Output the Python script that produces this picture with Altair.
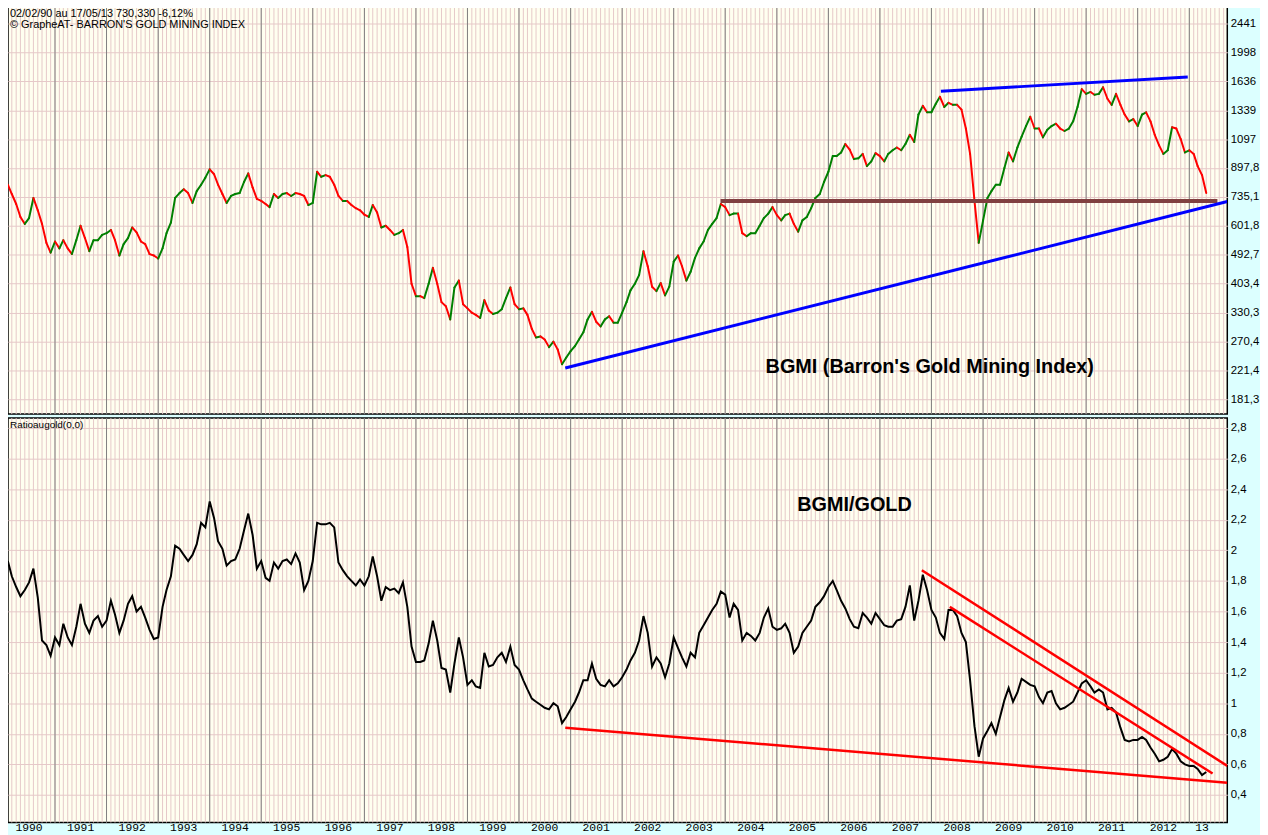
import altair as alt
import pandas as pd

# ---------------- data ----------------
months = pd.date_range("1990-02-01", periods=280, freq="MS").strftime("%Y-%m-%d").tolist()

bgmi = [
    800, 750, 700, 640, 610, 635, 730, 670, 610, 535, 500,
    540, 515, 545, 515, 495, 545, 602, 553, 505, 545, 545, 565,
    572, 585, 545, 490, 530, 553, 595, 575, 540, 530, 495, 490,
    480, 515, 572, 615, 730, 755, 775, 755, 705, 765, 800, 840,
    890, 860, 800, 750, 705, 740, 750, 755, 815, 865, 785, 725,
    715, 700, 685, 750, 730, 750, 755, 740, 755, 750, 740, 695,
    705, 875, 845, 855, 845, 800, 740, 715, 715, 695, 680, 670,
    650, 640, 695, 660, 595, 602, 585, 565, 572, 585, 520, 403,
    370, 370, 365, 403, 450, 403, 355, 345, 315, 393, 412, 350,
    340, 330, 325, 318, 360, 335, 327, 330, 338, 365, 393, 350,
    338, 340, 325, 295, 278, 280, 274, 260, 270, 256, 231, 242,
    253, 262, 274, 288, 315, 332, 310, 300, 315, 322, 308, 308,
    330, 355, 385, 403, 428, 505, 455, 395, 383, 405, 372, 395,
    470, 490, 455, 412, 438, 482, 515, 540, 585, 610, 635, 700,
    685, 648, 655, 655, 572, 560, 572, 572, 602, 635, 655, 685,
    648, 625, 648, 655, 610, 578, 625, 640, 680, 730, 750, 815,
    875, 975, 975, 1000, 1060, 1020, 955, 960, 990, 910, 940, 995,
    975, 940, 990, 1015, 1035, 1015, 1060, 1130, 1075, 1300, 1380, 1320,
    1320, 1400, 1470, 1370, 1410, 1390, 1390, 1345, 1180, 990, 715, 535,
    625, 730, 765, 800, 800, 898, 1000, 940, 1035, 1115, 1200, 1280,
    1180, 1180, 1110, 1170, 1200, 1220, 1180, 1160, 1180, 1240, 1370, 1550,
    1500, 1520, 1490, 1500, 1570, 1450, 1390, 1500, 1390, 1300, 1240, 1260,
    1200, 1300, 1320, 1240, 1130, 1050, 990, 1015, 1190, 1180, 1097, 1000,
    1015, 990, 910, 855, 755,
]

ratio = [
    1.93, 1.83, 1.76, 1.70, 1.74, 1.79, 1.88, 1.69, 1.41, 1.38, 1.31,
    1.43, 1.38, 1.52, 1.43, 1.38, 1.50, 1.65, 1.52, 1.46, 1.54, 1.57, 1.50,
    1.54, 1.67, 1.58, 1.46, 1.54, 1.65, 1.70, 1.60, 1.63, 1.56, 1.48, 1.42,
    1.43, 1.63, 1.74, 1.83, 2.03, 2.01, 1.97, 1.93, 1.97, 2.04, 2.18, 2.15,
    2.32, 2.21, 2.06, 2.01, 1.90, 1.93, 1.94, 2.01, 2.13, 2.24, 2.10, 1.88,
    1.93, 1.82, 1.80, 1.92, 1.88, 1.93, 1.94, 1.91, 1.98, 1.92, 1.74, 1.80,
    1.93, 2.18, 2.17, 2.17, 2.18, 2.15, 1.92, 1.87, 1.83, 1.80, 1.77, 1.81,
    1.77, 1.83, 1.96, 1.83, 1.67, 1.76, 1.74, 1.75, 1.72, 1.79, 1.63, 1.37,
    1.27, 1.27, 1.28, 1.39, 1.54, 1.41, 1.23, 1.22, 1.07, 1.26, 1.43, 1.30,
    1.12, 1.15, 1.11, 1.10, 1.33, 1.24, 1.25, 1.30, 1.33, 1.27, 1.37, 1.25,
    1.22, 1.15, 1.09, 1.03, 1.01, 0.99, 0.97, 0.96, 1.00, 0.98, 0.87, 0.91,
    0.96, 1.01, 1.07, 1.15, 1.15, 1.26, 1.16, 1.12, 1.11, 1.15, 1.11, 1.13,
    1.17, 1.22, 1.28, 1.33, 1.41, 1.57, 1.46, 1.24, 1.30, 1.26, 1.17, 1.26,
    1.43, 1.36, 1.30, 1.24, 1.33, 1.30, 1.46, 1.51, 1.56, 1.61, 1.65, 1.73,
    1.71, 1.56, 1.65, 1.61, 1.41, 1.46, 1.44, 1.41, 1.46, 1.56, 1.62, 1.50,
    1.48, 1.49, 1.52, 1.46, 1.33, 1.37, 1.46, 1.50, 1.54, 1.63, 1.66, 1.70,
    1.76, 1.80, 1.74, 1.67, 1.62, 1.55, 1.50, 1.49, 1.59, 1.56, 1.52, 1.59,
    1.55, 1.51, 1.50, 1.50, 1.54, 1.55, 1.63, 1.77, 1.54, 1.67, 1.84, 1.74,
    1.61, 1.56, 1.46, 1.42, 1.61, 1.61, 1.57, 1.46, 1.40, 1.15, 0.85, 0.65,
    0.77, 0.82, 0.87, 0.80, 0.91, 1.02, 1.10, 1.01, 1.07, 1.16, 1.14, 1.12,
    1.11, 1.04, 1.00, 1.07, 1.08, 1.00, 0.96, 0.97, 0.99, 1.01, 1.07, 1.13,
    1.15, 1.11, 1.07, 1.09, 1.07, 0.96, 0.97, 0.94, 0.84, 0.76, 0.75, 0.76,
    0.76, 0.78, 0.76, 0.71, 0.67, 0.62, 0.63, 0.65, 0.70, 0.67, 0.62, 0.60,
    0.59, 0.59, 0.57, 0.53, 0.55,
]

top_ticks = [181.3, 221.4, 270.4, 330.3, 403.4, 492.7, 601.8, 735.1, 897.8,
             1097, 1339, 1636, 1998, 2441]
bot_ticks = [0.4, 0.6, 0.8, 1.0, 1.2, 1.4, 1.6, 1.8, 2.0, 2.2, 2.4, 2.6, 2.8]

year_labels = [str(y) for y in range(1990, 2013)] + ["13"]
year_label_dates = [f"{y}-07-01" for y in range(1990, 2013)] + ["2013-04-01"]
year_lines = [f"{y}-01-01" for y in range(1991, 2014)]
month_lines = pd.date_range("1990-03-01", "2013-09-01", freq="MS").strftime("%Y-%m-%d").tolist()

# trend lines (start date, end date, start value, end value)
blue_x = ["2000-11-24", "2008-03-08"]
blue_x2 = ["2013-09-27", "2012-12-21"]
blue_y = [225, 1528]
blue_y2 = [712, 1685]
brown_x, brown_x2, brown_y, brown_y2 = ["2003-11-29"], ["2013-07-19"], [715], [715]
red_x = ["2000-11-24", "2007-10-25", "2008-05-10"]
red_x2 = ["2013-09-27", "2013-09-27", "2013-06-15"]
red_y = [0.84, 1.87, 1.63]
red_y2 = [0.48, 0.59, 0.54]

# ---------------- build ----------------
W = 1230
H1 = 412
H2 = 408
PINK = "#E6C8C8"
XDOM = [alt.DateTime(year=1990, month=2, date=2), alt.DateTime(year=2013, month=9, date=27)]
xscale = alt.Scale(domain=XDOM)
LBL = "replace(toString(datum.value), '.', ',')"

price = pd.DataFrame({"date": months, "val": bgmi})
price["pdate"] = price["date"].shift(1)
price["pval"] = price["val"].shift(1)
price = price.dropna()
price["dir"] = ["up" if v >= p else "down" for v, p in zip(price["val"], price["pval"])]

rat = pd.DataFrame({"date": months, "val": ratio})
months_df = pd.DataFrame({"d": month_lines})
years_df = pd.DataFrame({"d": year_lines})
labels_df = pd.DataFrame({"d": year_label_dates, "lab": year_labels})

top_scale = alt.Scale(type="log", domain=[163.6, 2761], nice=False)
bot_scale = alt.Scale(domain=[0.22, 2.865], nice=False, zero=False)


def top_axis():
    return alt.Axis(orient="right", values=top_ticks, labelExpr=LBL, title=None, labelOverlap=False)


def bot_axis():
    return alt.Axis(orient="right", values=bot_ticks, labelExpr=LBL, title=None, labelOverlap=False)


def grid_layers():
    m = alt.Chart(months_df).mark_rule(color=PINK, strokeWidth=1).encode(
        x=alt.X("d:T", scale=xscale, axis=None))
    y = alt.Chart(years_df).mark_rule(color="#808080", strokeWidth=1).encode(
        x=alt.X("d:T", scale=xscale, axis=None))
    return [m, y]


segs = alt.Chart(price).mark_rule(strokeWidth=2, strokeCap="round").encode(
    x=alt.X("date:T", scale=xscale, axis=None),
    x2="pdate:T",
    y=alt.Y("val:Q", scale=top_scale, axis=top_axis()),
    y2="pval:Q",
    color=alt.Color("dir:N", scale=alt.Scale(domain=["up", "down"], range=["#008000", "#FF0000"]), legend=None),
)

blue = alt.Chart(pd.DataFrame({"x": blue_x, "x2": blue_x2, "y": blue_y, "y2": blue_y2})).mark_rule(
    color="#0000FF", strokeWidth=3, clip=True).encode(
    x=alt.X("x:T", scale=xscale, axis=None), x2="x2:T",
    y=alt.Y("y:Q", scale=top_scale, axis=top_axis()), y2="y2:Q")
brown = alt.Chart(pd.DataFrame({"x": brown_x, "x2": brown_x2, "y": brown_y, "y2": brown_y2})).mark_rule(
    color="#804040", strokeWidth=4, clip=True).encode(
    x=alt.X("x:T", scale=xscale, axis=None), x2="x2:T",
    y=alt.Y("y:Q", scale=top_scale, axis=top_axis()), y2="y2:Q")

title_top = alt.Chart(pd.DataFrame({"d": ["2007-12-20"], "v": [226], "t": ["BGMI (Barron's Gold Mining Index)"]})).mark_text(
    font="Liberation Sans", fontSize=20, fontWeight="bold", color="black").encode(
    x=alt.X("d:T", scale=xscale, axis=None),
    y=alt.Y("v:Q", scale=top_scale, axis=top_axis()), text="t:N")

info1 = alt.Chart(pd.DataFrame({"t": ["02/02/90 au 17/05/13  730,330  -6,12%"]})).mark_text(
    align="left", baseline="middle", font="Liberation Sans", fontSize=11, color="black").encode(
    x=alt.value(2), y=alt.value(8), text="t:N")
info2 = alt.Chart(pd.DataFrame({"t": ["\u00a9 GrapheAT- BARRON'S GOLD MINING INDEX"]})).mark_text(
    align="left", baseline="middle", font="Liberation Sans", fontSize=11, color="black").encode(
    x=alt.value(2), y=alt.value(20), text="t:N")

top = alt.layer(*grid_layers(), segs, brown, blue, title_top, info1, info2).properties(width=W, height=H1)

line = alt.Chart(rat).mark_line(color="black", strokeWidth=2).encode(
    x=alt.X("date:T", scale=xscale, axis=None),
    y=alt.Y("val:Q", scale=bot_scale, axis=bot_axis()))

red = alt.Chart(pd.DataFrame({"x": red_x, "x2": red_x2, "y": red_y, "y2": red_y2})).mark_rule(
    color="#FF0000", strokeWidth=2.5, clip=True).encode(
    x=alt.X("x:T", scale=xscale, axis=None), x2="x2:T",
    y=alt.Y("y:Q", scale=bot_scale, axis=bot_axis()), y2="y2:Q")

title_bot = alt.Chart(pd.DataFrame({"d": ["2006-07-05"], "v": [2.294], "t": ["BGMI/GOLD"]})).mark_text(
    font="Liberation Sans", fontSize=20, fontWeight="bold", color="black").encode(
    x=alt.X("d:T", scale=xscale, axis=None),
    y=alt.Y("v:Q", scale=bot_scale, axis=bot_axis()), text="t:N")

info3 = alt.Chart(pd.DataFrame({"t": ["Ratioaugold(0,0)"]})).mark_text(
    align="left", baseline="middle", font="Liberation Sans", fontSize=10, color="black").encode(
    x=alt.value(2), y=alt.value(7), text="t:N")

yearlab = alt.Chart(labels_df).mark_text(
    baseline="middle", font="Liberation Mono", fontSize=11.5, color="black").encode(
    x=alt.X("d:T", scale=xscale, axis=None), y=alt.value(H2 + 5.5), text="lab:N")

bottom = alt.layer(*grid_layers(), line, red, title_bot, info3, yearlab).properties(width=W, height=H2)

chart = alt.vconcat(top, bottom, spacing=0).properties(
    padding={"left": -5, "top": -8, "right": 0, "bottom": 0},
    background="#DCFFFF",
).configure_view(
    fill="#FFFFF0", stroke="black", strokeWidth=1.5
).configure_axis(
    grid=True, gridColor=PINK, gridWidth=1, ticks=False, domain=False,
    labelFont="Liberation Sans", labelFontSize=11.5, labelColor="black",
    labelPadding=3, labelAlign="left", labelOverlap=False
)

chart.save("out.html", embed_options={"renderer": "svg", "actions": False})
